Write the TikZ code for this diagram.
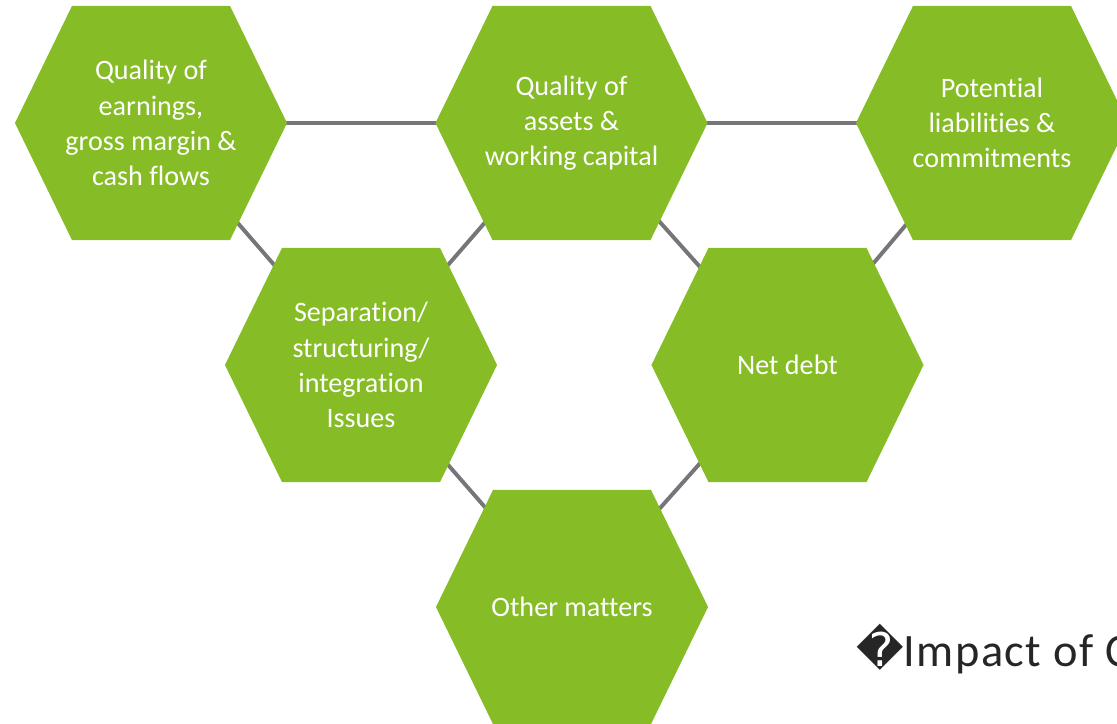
\documentclass[tikz,border=0pt]{standalone}
\usepackage{fontspec}
\setmainfont{Carlito}[Ligatures=NoCommon]
\newfontfamily\captionfont{Carlito}[Ligatures=NoCommon, LetterSpace=3]
\newfontfamily\dejavu{DejaVu Sans}
\usetikzlibrary{backgrounds}
\definecolor{leafgreen}{HTML}{86BC25}
\definecolor{linkgray}{HTML}{76767A}

\begin{document}
\begin{tikzpicture}[x=0.025cm, y=-0.025cm,
    hex node/.style={minimum width=6.8cm, minimum height=5.85cm, inner sep=0pt,
      align=center, text=white, font=\fontsize{20}{25}\selectfont,
      path picture={\fill[leafgreen] (path picture bounding box.west)
        -- ([xshift=1.425cm]path picture bounding box.north west)
        -- ([xshift=-1.425cm]path picture bounding box.north east)
        -- (path picture bounding box.east)
        -- ([xshift=-1.425cm]path picture bounding box.south east)
        -- ([xshift=1.425cm]path picture bounding box.south west) -- cycle;}},
    link/.style={draw=linkgray, line width=2.8pt}
  ]
  \useasboundingbox (0,0) rectangle (1117,723);

  \node[hex node] (earnings) at (151,123) {Quality of\\earnings,\\gross margin \&\\cash flows};
  \node[hex node] (assets) at (571.5,123) {Quality of\\assets \&\\working capital};
  \node[hex node] (liabilities) at (992,123) {Potential\\liabilities \&\\commitments};
  \node[hex node] (separation) at (361,365) {Separation/\\structuring/\\integration\\Issues};
  \node[hex node] (netdebt) at (787.5,365) {Net debt};
  \node[hex node] (other) at (572,607) {Other matters};

  % links run centre to centre, behind the hexagons
  \begin{scope}[on background layer]
    \path[link]
      (earnings.center) -- (assets.center)
      (assets.center) -- (liabilities.center)
      (earnings.center) -- (separation.center)
      (assets.center) -- (separation.center)
      (assets.center) -- (netdebt.center)
      (liabilities.center) -- (netdebt.center)
      (separation.center) -- (other.center)
      (netdebt.center) -- (other.center);
  \end{scope}

  \node[anchor=base west, inner sep=0pt, text=black!85, font=\captionfont\fontsize{33}{40}\selectfont]
    (impact) at (856,666) {{\dejavu\char"FFFD}Impact of C};
\end{tikzpicture}
\end{document}
